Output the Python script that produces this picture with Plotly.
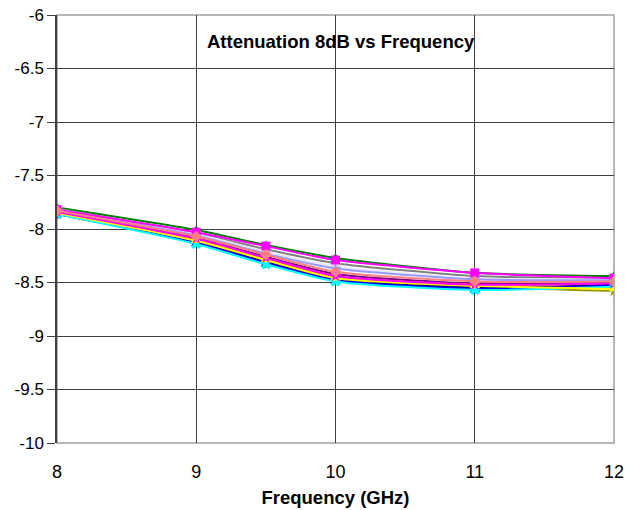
import plotly.graph_objects as go

freq = [8, 9, 9.5, 10, 11, 12]

series_names = ["S1", "S2", "S3", "S4", "S5", "S6", "S7", "S8", "S9", "S10",
                "S11", "S12", "S13", "S14"]
s_green   = [-7.80, -8.01, -8.15, -8.27, -8.41, -8.44]
s_magenta = [-7.82, -8.03, -8.16, -8.29, -8.41, -8.46]
s_gray    = [-7.81, -8.04, -8.19, -8.32, -8.44, -8.46]
s_white   = [-7.82, -8.05, -8.21, -8.35, -8.46, -8.47]
s_lblue   = [-7.83, -8.06, -8.23, -8.37, -8.47, -8.48]
s_purple  = [-7.84, -8.08, -8.26, -8.42, -8.51, -8.50]
s_pink    = [-7.84, -8.09, -8.27, -8.44, -8.52, -8.51]
s_orange  = [-7.85, -8.10, -8.28, -8.45, -8.52, -8.54]
s_yellow  = [-7.85, -8.11, -8.29, -8.46, -8.53, -8.56]
s_olive   = [-7.86, -8.11, -8.30, -8.46, -8.54, -8.58]
s_navy    = [-7.85, -8.12, -8.31, -8.47, -8.55, -8.52]
s_blue    = [-7.86, -8.13, -8.32, -8.48, -8.56, -8.53]
s_cyan    = [-7.86, -8.14, -8.33, -8.49, -8.57, -8.54]
s_salmon  = [-7.83, -8.07, -8.24, -8.40, -8.49, -8.49]

series = [s_green, s_gray, s_white, s_lblue, s_purple, s_orange, s_olive,
          s_navy, s_blue, s_cyan, s_yellow, s_pink, s_magenta, s_salmon]
colors = ["#008000", "#808080", "#E8E8F8", "#9999FF", "#800080", "#FF9900",
          "#999900", "#000080", "#0000FF", "#00FFFF", "#FFFF00", "#FF00FF",
          "#FF00FF", "#FF8080"]
markers = ["triangle-up", "circle", "x", "star", "circle", "triangle-up",
           "star", "diamond", "x", "x", "triangle-up", "star", "square", "diamond"]

y_ticks = [-10, -9.5, -9, -8.5, -8, -7.5, -7, -6.5, -6]
x_ticks = [8, 9, 10, 11, 12]

fig = go.Figure()
for name, ys, c, m in zip(series_names, series, colors, markers):
    fig.add_trace(go.Scatter(
        x=freq, y=ys, name=name, mode="lines+markers",
        line=dict(color=c, width=2, shape="spline", smoothing=0.6),
        marker=dict(symbol=m, size=9, color=c),
        showlegend=False,
    ))

fig.add_shape(type="rect", xref="paper", yref="paper", x0=0, x1=1, y0=0, y1=1,
              line=dict(color="#A0A0A0", width=1.5), layer="below")

fig.add_annotation(text="<b>Attenuation 8dB vs Frequency</b>", xref="paper", yref="paper",
                   x=0.51, y=0.939, xanchor="center", yanchor="middle", showarrow=False,
                   font=dict(family="Arial, Liberation Sans", size=18.5, color="#000000"))

fig.update_layout(
    width=628, height=510,
    margin=dict(l=57, r=14, t=15, b=67),
    paper_bgcolor="white", plot_bgcolor="white",
    font=dict(family="Arial, Liberation Sans", size=18, color="#000000"),
    xaxis=dict(range=[8, 12], tickvals=x_ticks, ticktext=[str(v) for v in x_ticks],
               showgrid=True, gridcolor="#404040", gridwidth=1.2,
               zeroline=False, showline=False, ticks="", automargin=False,
               ticklabelstandoff=16, tickfont=dict(size=18),
               title=dict(text="<b>Frequency (GHz)</b>", font=dict(size=18.5), standoff=10)),
    yaxis=dict(range=[-10, -6], tickvals=y_ticks, ticktext=[f"{v:g}" for v in y_ticks],
               showgrid=True, gridcolor="#404040", gridwidth=1.2, automargin=False,
               zeroline=False, showline=True, linecolor="#404040", linewidth=1.5,
               ticks="outside", ticklen=8, tickcolor="#404040",
               tickfont=dict(size=17)),
)

fig.write_html("out.html")
